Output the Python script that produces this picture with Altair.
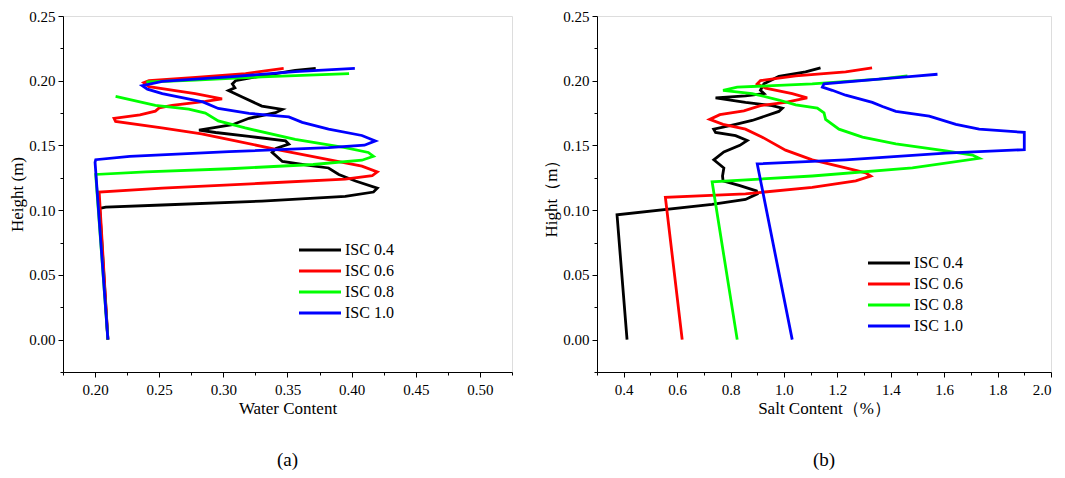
import altair as alt
import pandas as pd

series_names = ["ISC 0.4", "ISC 0.6", "ISC 0.8", "ISC 1.0"]
series_colors = ["#000000", "#ff0000", "#00ff00", "#0000ff"]

# ---------- (a) Water content vs height ----------
wc_x_04 = [0.210, 0.2036, 0.2083, 0.2524, 0.330, 0.395, 0.417, 0.420, 0.403, 0.390, 0.382, 0.3667, 0.346,
           0.338, 0.341, 0.351, 0.3485, 0.320, 0.294, 0.281, 0.307, 0.320, 0.3407, 0.3459, 0.330,
           0.3147, 0.304, 0.309, 0.307, 0.3095, 0.330, 0.356, 0.372]
wc_h_04 = [0.000, 0.1014, 0.1024, 0.104, 0.107, 0.1107, 0.114, 0.117, 0.1225, 0.1276, 0.1326, 0.1346, 0.1376,
           0.1447, 0.1477, 0.151, 0.1535, 0.157, 0.160, 0.1618, 0.166, 0.171, 0.1753, 0.1778, 0.1804,
           0.1874, 0.1924, 0.1945, 0.1975, 0.200, 0.2038, 0.208, 0.2095]

wc_x_06 = [0.210, 0.2032, 0.2524, 0.330, 0.395, 0.416, 0.420, 0.408, 0.382, 0.341, 0.3095, 0.283, 0.252,
           0.216, 0.2148, 0.235, 0.247, 0.250, 0.260, 0.286, 0.299, 0.278, 0.242, 0.238, 0.242,
           0.2784, 0.3173, 0.347]
wc_h_06 = [0.000, 0.114, 0.117, 0.1208, 0.124, 0.1266, 0.1296, 0.134, 0.139, 0.147, 0.1535, 0.159, 0.1635,
           0.1685, 0.171, 0.1736, 0.1765, 0.179, 0.181, 0.184, 0.186, 0.190, 0.1955, 0.1985, 0.200,
           0.2025, 0.2055, 0.2095]

wc_x_08 = [0.210, 0.2005, 0.2395, 0.305, 0.370, 0.408, 0.417, 0.413, 0.395, 0.356, 0.317, 0.296, 0.286,
           0.273, 0.247, 0.216, None, 0.240, 0.278, 0.330, 0.398]
wc_h_08 = [0.000, 0.1276, 0.1296, 0.132, 0.1353, 0.1386, 0.1416, 0.1446, 0.1484, 0.1547, 0.1635, 0.169, 0.175,
           0.178, 0.181, 0.188, None, 0.199, 0.2005, 0.203, 0.2055]

wc_x_10 = [0.210, 0.200, 0.2005, 0.227, 0.3045, 0.382, 0.410, 0.4185, 0.408, 0.382, 0.3615, 0.351, 0.320,
           0.296, 0.284, 0.2524, 0.2408, 0.2368, 0.2524, 0.3045, 0.356, 0.4025]
wc_h_10 = [0.000, 0.137, 0.139, 0.1416, 0.1452, 0.1484, 0.1502, 0.1535, 0.1577, 0.1626, 0.1678, 0.172, 0.1748,
           0.1786, 0.1836, 0.190, 0.1935, 0.1962, 0.1995, 0.203, 0.207, 0.2095]

# ---------- (b) Salt content vs height ----------
sc_x_04 = [0.4125, 0.375, 0.731, 0.856, 0.900, 0.897, 0.835, 0.772, 0.770, 0.775, 0.7375, 0.775, 0.835,
           0.8625, 0.819, 0.744, 0.737, 0.819, 0.881, 0.981, 0.994, 0.956, 0.856, 0.744, 0.856,
           0.925, 0.912, 0.925, 0.981, 1.081, 1.137]
sc_h_04 = [0.000, 0.0964, 0.1044, 0.1083, 0.1126, 0.1149, 0.1189, 0.1226, 0.1264, 0.1326, 0.1389, 0.145, 0.1501,
           0.1538, 0.1576, 0.1601, 0.1626, 0.1663, 0.1693, 0.1763, 0.1788, 0.1808, 0.1833, 0.1868, 0.1883,
           0.1901, 0.1926, 0.1976, 0.2033, 0.2068, 0.210]

sc_x_06 = [0.619, 0.556, 0.856, 1.106, 1.269, 1.325, 1.306, 1.231, 1.106, 1.006, 0.919, 0.856, 0.772,
           0.722, 0.760, 0.850, 0.912, 1.006, 1.087, 1.031, 0.931, 0.900, 0.912, 1.044, 1.231, 1.330]
sc_h_06 = [0.000, 0.110, 0.1126, 0.1176, 0.1226, 0.1264, 0.1289, 0.1326, 0.1389, 0.1464, 0.1564, 0.1626, 0.1663,
           0.1701, 0.1738, 0.1768, 0.1808, 0.1833, 0.1868, 0.1901, 0.1943, 0.1976, 0.2001, 0.2038, 0.2068, 0.210]

sc_x_08 = [0.825, 0.731, 1.106, 1.481, 1.731, 1.706, 1.606, 1.419, 1.294, 1.206, 1.156, 1.150, 1.125,
           1.044, 0.981, 0.881, 0.772, 0.825, 1.106, 1.356, 1.4625]
sc_h_08 = [0.000, 0.1219, 0.1264, 0.1326, 0.1401, 0.1426, 0.1459, 0.1513, 0.1564, 0.1626, 0.1701, 0.1751, 0.1788,
           0.1813, 0.1851, 0.1901, 0.1926, 0.195, 0.1976, 0.2013, 0.2038]

sc_x_10 = [1.031, 0.900, 1.231, 1.606, 1.900, 1.900, 1.731, 1.644, 1.544, 1.419, 1.369, 1.331, 1.231,
           1.181, 1.144, 1.150, 1.356, 1.481, 1.575]
sc_h_10 = [0.000, 0.1358, 0.1389, 0.144, 0.1468, 0.1601, 0.1626, 0.1663, 0.1726, 0.1763, 0.1801, 0.1833, 0.1888,
           0.1926, 0.195, 0.1976, 0.2013, 0.2033, 0.205]

x_ticks_a = [0.20, 0.25, 0.30, 0.35, 0.40, 0.45, 0.50]
x_ticks_b = [0.4, 0.6, 0.8, 1.0, 1.2, 1.4, 1.6, 1.8, 2.0]
y_ticks = [0.00, 0.05, 0.10, 0.15, 0.20, 0.25]


def build(xs_list, hs_list):
    rows = []
    for name, xs, hs in zip(series_names, xs_list, hs_list):
        seg = 0
        for i, (x, h) in enumerate(zip(xs, hs)):
            if x is None:
                seg += 1
                continue
            rows.append({"series": name, "seg": f"{name}-{seg}", "idx": i, "x": x, "h": h})
    return pd.DataFrame(rows)


df_a = build([wc_x_04, wc_x_06, wc_x_08, wc_x_10], [wc_h_04, wc_h_06, wc_h_08, wc_h_10])
df_b = build([sc_x_04, sc_x_06, sc_x_08, sc_x_10], [sc_h_04, sc_h_06, sc_h_08, sc_h_10])

FONT = "Liberation Serif"


def minor_vals(lo, hi, step):
    vals = []
    v = lo
    while v <= hi + 1e-9:
        vals.append(round(v, 4))
        v += step
    return vals


def panel(df, xdom, xmajor, xminor_step, xtitle, ytitle, xfmt, legend_x, legend_y, letter, width):
    xvals = minor_vals(xdom[0], xdom[1], xminor_step)
    major_test_x = " || ".join([f"abs(datum.value - {m}) < 1e-6" for m in xmajor])
    yvals = minor_vals(-0.025, 0.25, 0.025)
    major_test_y = " || ".join([f"abs(datum.value - {m}) < 1e-6" for m in y_ticks])
    xaxis = alt.Axis(
        values=xvals, format=xfmt, title=xtitle,
        labelExpr=f"({major_test_x}) ? datum.label : ''",
        tickSize={"condition": {"test": major_test_x, "value": 5}, "value": 3},
        grid=False, domainColor="black", tickColor="black", labelColor="black",
        labelFont=FONT, labelFontSize=15, titleFont=FONT, titleFontSize=17,
        titleFontWeight="normal", titleColor="black", labelPadding=5, titlePadding=3,
        labelFlush=True,
    )
    yaxis = alt.Axis(
        values=yvals, format=".2f", title=ytitle,
        labelExpr=f"({major_test_y}) ? datum.label : ''",
        tickSize={"condition": {"test": major_test_y, "value": 5}, "value": 3},
        grid=False, domainColor="black", tickColor="black", labelColor="black",
        labelFont=FONT, labelFontSize=15, titleFont=FONT, titleFontSize=17,
        titleFontWeight="normal", titleColor="black", labelPadding=3, titlePadding=2,
        labelFlush=False,
    )
    return alt.Chart(df).mark_line(strokeWidth=2.8, clip=True).encode(
        x=alt.X("x:Q", scale=alt.Scale(domain=xdom, nice=False, zero=False), axis=xaxis),
        y=alt.Y("h:Q", scale=alt.Scale(domain=[-0.025, 0.25], nice=False, zero=False), axis=yaxis),
        color=alt.Color("series:N", scale=alt.Scale(domain=series_names, range=series_colors),
                        legend=alt.Legend(orient="none", legendX=legend_x, legendY=legend_y, title=None,
                                          symbolType="M-2,0H2", symbolSize=441, symbolStrokeWidth=3,
                                          labelFont=FONT, labelFontSize=16, labelColor="black",
                                          rowPadding=1, labelOffset=13, padding=0)),
        detail="seg:N",
        order="idx:Q",
    ).properties(
        width=width, height=356,
        title=alt.Title(letter, orient="bottom", font=FONT, fontSize=19, fontWeight="normal",
                        color="black", offset=35),
    )


left = panel(df_a, [0.175, 0.525], x_ticks_a, 0.025, "Water Content", "Height (m)", ".2f", 245, 222, "(a)", 449)
right = panel(df_b, [0.3, 2.0], x_ticks_b, 0.1, "Salt Content（%）", "Hight（m）", ".1f", 280, 235, "(b)", 454)

chart = alt.hconcat(left, right, spacing=29).resolve_scale(color="independent").configure_view(
    stroke="black", strokeWidth=1
).configure(padding=0).configure_legend(labelLimit=0)

chart.save("out.html", embed_options={"renderer": "svg", "actions": False})
